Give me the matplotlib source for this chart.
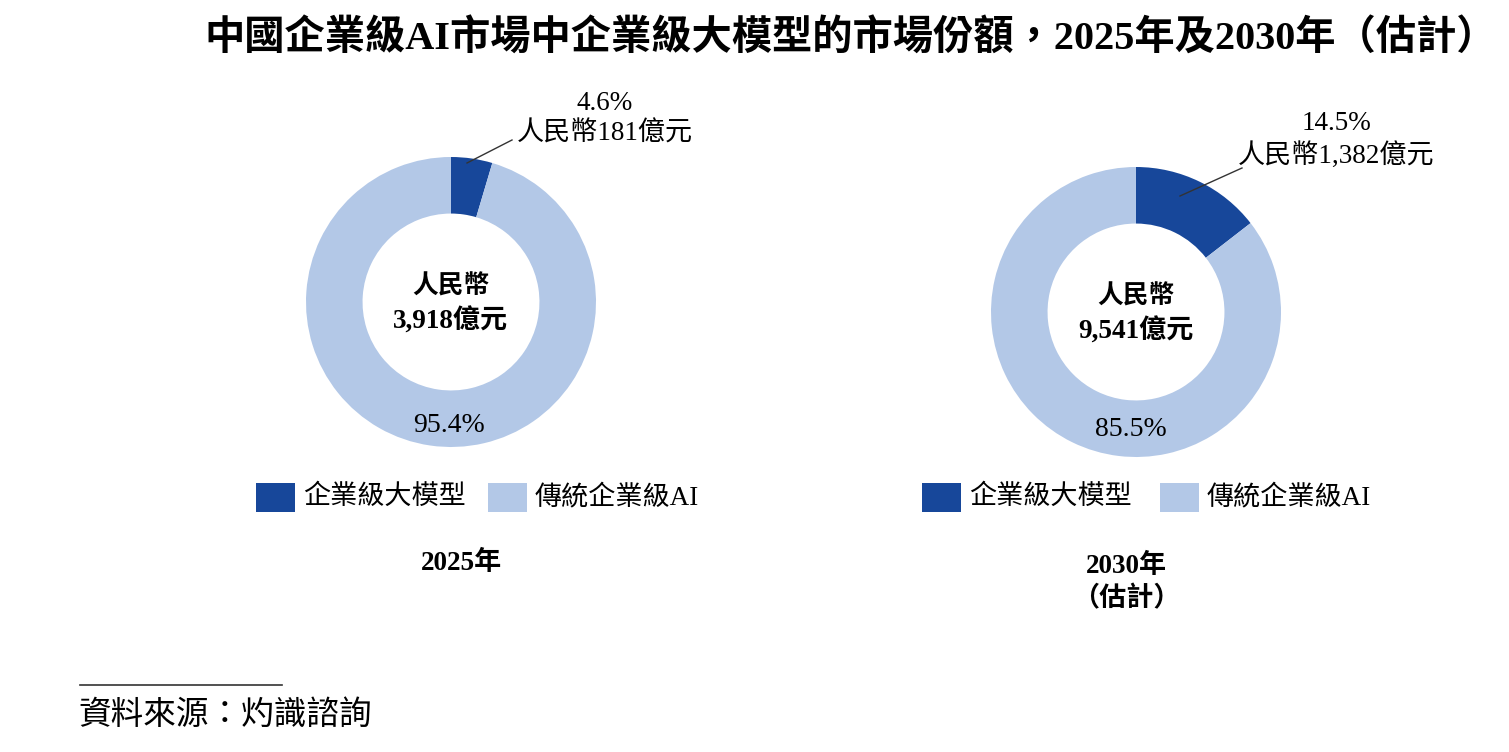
import matplotlib.pyplot as plt
from matplotlib.patches import Rectangle

plt.rcParams['font.family'] = ['Liberation Serif', 'Noto Sans CJK TC']

title = '中國企業級AI市場中企業級大模型的市場份額，2025年及2030年（估計）'
categories = ['企業級大模型', '傳統企業級AI']
share_2025 = [4.6, 95.4]
share_2030 = [14.5, 85.5]
total_2025 = '3,918'
total_2030 = '9,541'
llm_2025 = '181'
llm_2030 = '1,382'
years = ['2025年', '2030年\n（估計）']
source = '資料來源：灼識諮詢'

dark = '#17479a'
light = '#b3c8e7'
colors = [dark, light]

W, H = 1509, 752
fig = plt.figure(figsize=(W / 100, H / 100), dpi=100)
ax = fig.add_axes([0, 0, 1, 1])
ax.set_xlim(0, W)
ax.set_ylim(0, H)
ax.set_aspect('equal')
ax.axis('off')

def Y(y):
    return H - y

R = 145
donuts = [
    (451, 302, share_2025, total_2025, llm_2025, 449, 425,
     (467, 163), (512, 140), (605, 119), 462),
    (1136, 312, share_2030, total_2030, llm_2030, 1131, 430,
     (1180, 196), (1242, 168), (1336, 140), 1126),
]

for i, (cx, cy, vals, total, llm, px, py, p0, p1, lab, yx) in enumerate(donuts):
    ax.pie(vals, colors=colors, startangle=90, counterclock=False,
           radius=R, center=(cx, Y(cy)),
           wedgeprops=dict(width=R * 0.39, linewidth=0), frame=True)
    ax.text(cx, Y(cy - 16), '人民幣', ha='center', va='center',
            fontsize=18.5, fontweight='bold')
    ax.text(cx, Y(cy + 19), total + '億元', ha='center', va='center',
            fontsize=19.5, fontweight='bold')
    ax.text(px, Y(py), f'{vals[1]}%', ha='center', va='center', fontsize=20)
    ax.plot([p0[0], p1[0]], [Y(p0[1]), Y(p1[1])], color='#333333', lw=1)
    ax.text(lab[0], Y(lab[1]), f'{vals[0]}%\n人民幣{llm}億元', ha='center',
            va='center', fontsize=19.5, linespacing=1.3)
    # legend
    lx = cx - 195 if i == 0 else cx - 214
    offsets = [0, 232] if i == 0 else [0, 238]
    for off, c, name in zip(offsets, colors, categories):
        ax.add_patch(Rectangle((lx + off, Y(512)), 39, 29, color=c, lw=0))
        ax.text(lx + off + 47, Y(497), name, ha='left', va='center',
                fontsize=19.5)
    ax.text(yx, Y(563 if i == 0 else 583), years[i], ha='center',
            va='center', fontsize=19.5, fontweight='bold', linespacing=1.35)

ax.set_xlim(0, W)
ax.set_ylim(0, H)

ax.text(851, Y(38), title, ha='center', va='center', fontsize=29,
        fontweight='bold')

ax.plot([80, 282], [Y(685), Y(685)], color='#333333', lw=1.2)
ax.text(78, Y(716), source, ha='left', va='center', fontsize=23.5,
        style='italic')

fig.savefig('out.png', dpi=100)
